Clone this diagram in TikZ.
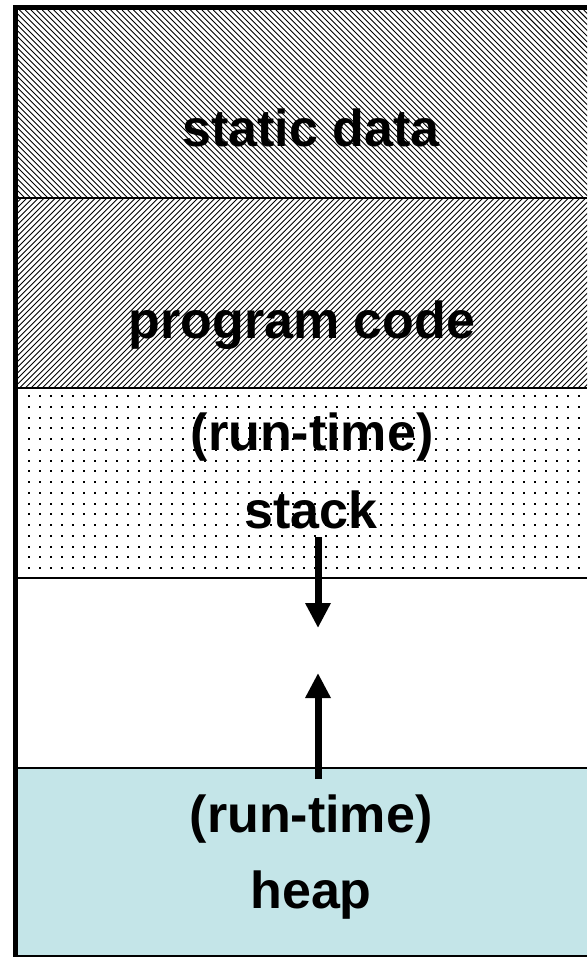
\documentclass[tikz,border=0pt]{standalone}
\usepackage{fontspec}
\setmainfont{Liberation Sans}
\usetikzlibrary{arrows.meta}
\definecolor{heapblue}{RGB}{196,229,232}
\tikzset{
  lbl/.style={font=\fontsize{52}{60}\selectfont\bfseries, anchor=base, inner sep=0pt},
  sep/.style={line width=2pt, black},
  growarrow/.style={line width=7pt, -{Triangle[width=24pt,length=25pt]}},
  hatchline/.style={line width=0.9pt, black},
  dotmark/.style={fill=black}
}
\begin{document}
\begin{tikzpicture}[x=1pt,y=-1pt]
\useasboundingbox (0,0) rectangle (587,957);
\fill[white] (0,0) rectangle (587,957);
% static data: "\" hatching
\begin{scope}
  \clip (18,10) rectangle (587,198);
  \foreach \i in {0,...,136} {
    \draw[hatchline] ({-180+\i*5.7},10) -- ++(188,188);
  }
\end{scope}
% program code: "/" hatching
\begin{scope}
  \clip (18,198) rectangle (587,388);
  \foreach \i in {0,...,136} {
    \draw[hatchline] ({-180+\i*5.7},388) -- ++(190,-190);
  }
\end{scope}
% stack: dots
\begin{scope}
  \clip (18,388) rectangle (587,578);
  \foreach \r in {0,...,17} {
    \foreach \c in {0,...,52} {
      \fill[dotmark] ({29+\c*11-1},{396+\r*10.75-1}) rectangle ++(2,2);
    }
  }
\end{scope}
% heap
\fill[heapblue] (18,768) rectangle (587,956);
% separators
\draw[sep] (18,198) -- (587,198);
\draw[sep] (18,388) -- (587,388);
\draw[sep] (18,578) -- (587,578);
\draw[sep] (18,768) -- (587,768);
\draw[line width=1.5pt] (18,956) -- (587,956);
% outer border
\draw[line width=5pt] (587,7.5) -- (15.5,7.5) -- (15.5,957);
% labels
\node[lbl] (static) at (311,147) {static data};
\node[lbl] (code) at (302,338) {program code};
\node[lbl] (srt) at (312,450) {(run-time)};
\node[lbl] (stack) at (311,528) {stack};
\node[lbl] (hrt) at (311,832) {(run-time)};
\node[lbl] (heap) at (311,908) {heap};
% growth arrows
\coordinate (s1) at (318,537);
\coordinate (s2) at (318,628);
\coordinate (h1) at (318,779);
\coordinate (h2) at (318,673);
\draw[growarrow] (s1) -- (s2);
\draw[growarrow] (h1) -- (h2);
\end{tikzpicture}
\end{document}
